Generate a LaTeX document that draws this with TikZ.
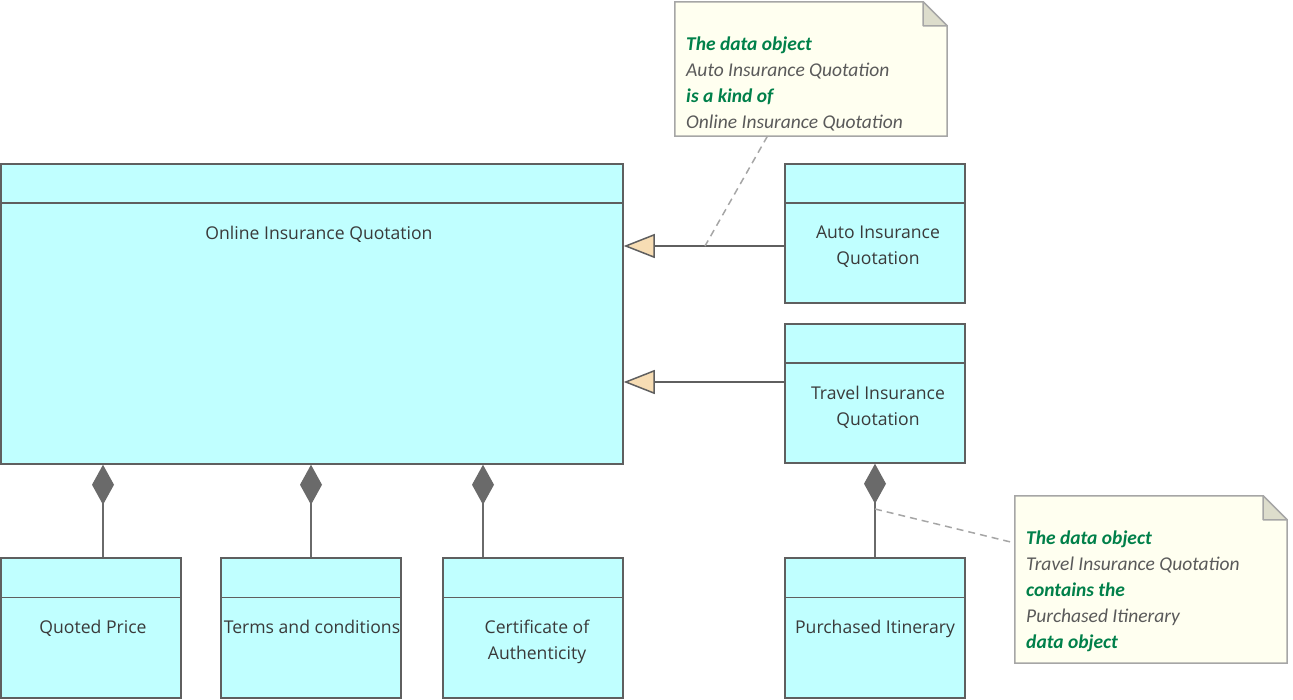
\documentclass[tikz,border=0pt]{standalone}
\usepackage{fontspec}
\setmainfont{Open Sans}
\newfontfamily\notefont{Carlito}
\usetikzlibrary{positioning,arrows.meta,calc}

\definecolor{boxfill}{HTML}{C0FFFF}
\definecolor{boxline}{HTML}{5F5F5F}
\definecolor{boxtext}{HTML}{3A3A3A}
\definecolor{notefill}{HTML}{FFFFF0}
\definecolor{noteline}{HTML}{A6A6A6}
\definecolor{foldfill}{HTML}{DDDDCC}
\definecolor{notegreen}{HTML}{00804A}
\definecolor{notegray}{HTML}{5A5A5A}
\definecolor{genfill}{HTML}{F7DDB4}
\definecolor{compfill}{HTML}{6A6A6A}

\begin{document}
\begin{tikzpicture}[x=1pt,y=-1pt,
obj/.style={draw=boxline,fill=boxfill,line width=1.5pt,minimum width=180pt,minimum height=140pt,inner sep=0pt},
objtext/.style={anchor=north,align=center,text=boxtext,inner sep=0pt,font=\fontsize{17.6}{26}\selectfont},
note/.style={draw=none,minimum width=272pt,inner sep=0pt},
notetext/.style={anchor=north west,align=left,inner sep=0pt,font=\notefont\fontsize{19.5}{26}\selectfont\itshape},
gen/.style={-{Triangle[length=31pt,width=24pt,fill=genfill]},draw=boxline,line width=1.5pt},
comp/.style={{Diamond[length=40pt,width=22pt,fill=compfill]}-,draw=compfill,line width=1.5pt},
link/.style={draw=noteline,line width=1.5pt,dash pattern=on 7pt off 5pt}
]
\useasboundingbox (0,0) rectangle (1293,700);

% data objects
\node[obj,minimum width=622pt,minimum height=300pt] (online) at (312,314) {};
\node[obj,minimum height=139pt] (auto) at (875,233.5) {};
\node[obj,minimum height=139pt] (travel) at (875,393.5) {};
\node[obj] (price) at (91,628) {};
\node[obj] (terms) at (311,628) {};
\node[obj] (cert) at (533,628) {};
\node[obj] (itin) at (875,628) {};

\foreach \n in {online,auto,travel,price,terms,cert,itin}
  \draw[draw=boxline,line width=1.5pt] ([yshift=-40pt]\n.north west) -- ([yshift=-40pt]\n.north east);

\node[objtext] (onlinet) at (319,226) {Online Insurance Quotation};
\node[objtext] (autot) at (878,226) {Auto Insurance\\Quotation};
\node[objtext] (travelt) at (878,386) {Travel Insurance\\Quotation};
\node[objtext] (pricet) at (93,620) {Quoted Price};
\node[objtext] (termst) at (312,620) {Terms and conditions};
\node[objtext] (certt) at (537,620) {Certificate of\\Authenticity};
\node[objtext] (itint) at (875,620) {Purchased Itinerary};

% generalizations
\draw[gen] (auto.west |- 0,246) -- (online.east |- 0,246);
\draw[gen] (travel.west |- 0,382) -- (online.east |- 0,382);

% compositions
\draw[comp] (online.south -| 103,0) -- (price.north -| 103,0);
\draw[comp] (online.south -| terms.north) -- (terms.north);
\draw[comp] (online.south -| 483,0) -- (cert.north -| 483,0);
\draw[comp] (travel.south) -- (itin.north);

% notes
\node[note,minimum height=134pt] (n1) at (811,69) {};
\node[note,minimum height=167pt] (n2) at (1151,579.5) {};
\foreach \n in {n1,n2}{
  \draw[draw=noteline,fill=notefill,line width=1.5pt] (\n.south west) -- (\n.north west)
    -- ([xshift=-24pt]\n.north east) -- ([yshift=-24pt]\n.north east) -- (\n.south east) -- cycle;
  \draw[draw=noteline,fill=foldfill,line width=1.5pt,line join=round] ([xshift=-24pt]\n.north east)
    -- ([xshift=-24pt,yshift=-24pt]\n.north east) -- ([yshift=-24pt]\n.north east) -- cycle;
}
\node[notetext] (n1t) at (686,37) {{\bfseries\color{notegreen}The data object}\\
  {\color{notegray}Auto Insurance Quotation}\\
  {\bfseries\color{notegreen}is a kind of}\\
  {\color{notegray}Online Insurance Quotation}};
\node[notetext] (n2t) at (1026,531) {{\bfseries\color{notegreen}The data object}\\
  {\color{notegray}Travel Insurance Quotation}\\
  {\bfseries\color{notegreen}contains the}\\
  {\color{notegray}Purchased Itinerary}\\
  {\bfseries\color{notegreen}data object}};

% note links
\coordinate (g1) at (705,246);
\coordinate (c1) at (875,509);
\draw[link] ($(n1.south west)!0.34!(n1.south east)$) -- (g1);
\draw[link] (c1) -- (n2.west |- 0,543);
\end{tikzpicture}
\end{document}
